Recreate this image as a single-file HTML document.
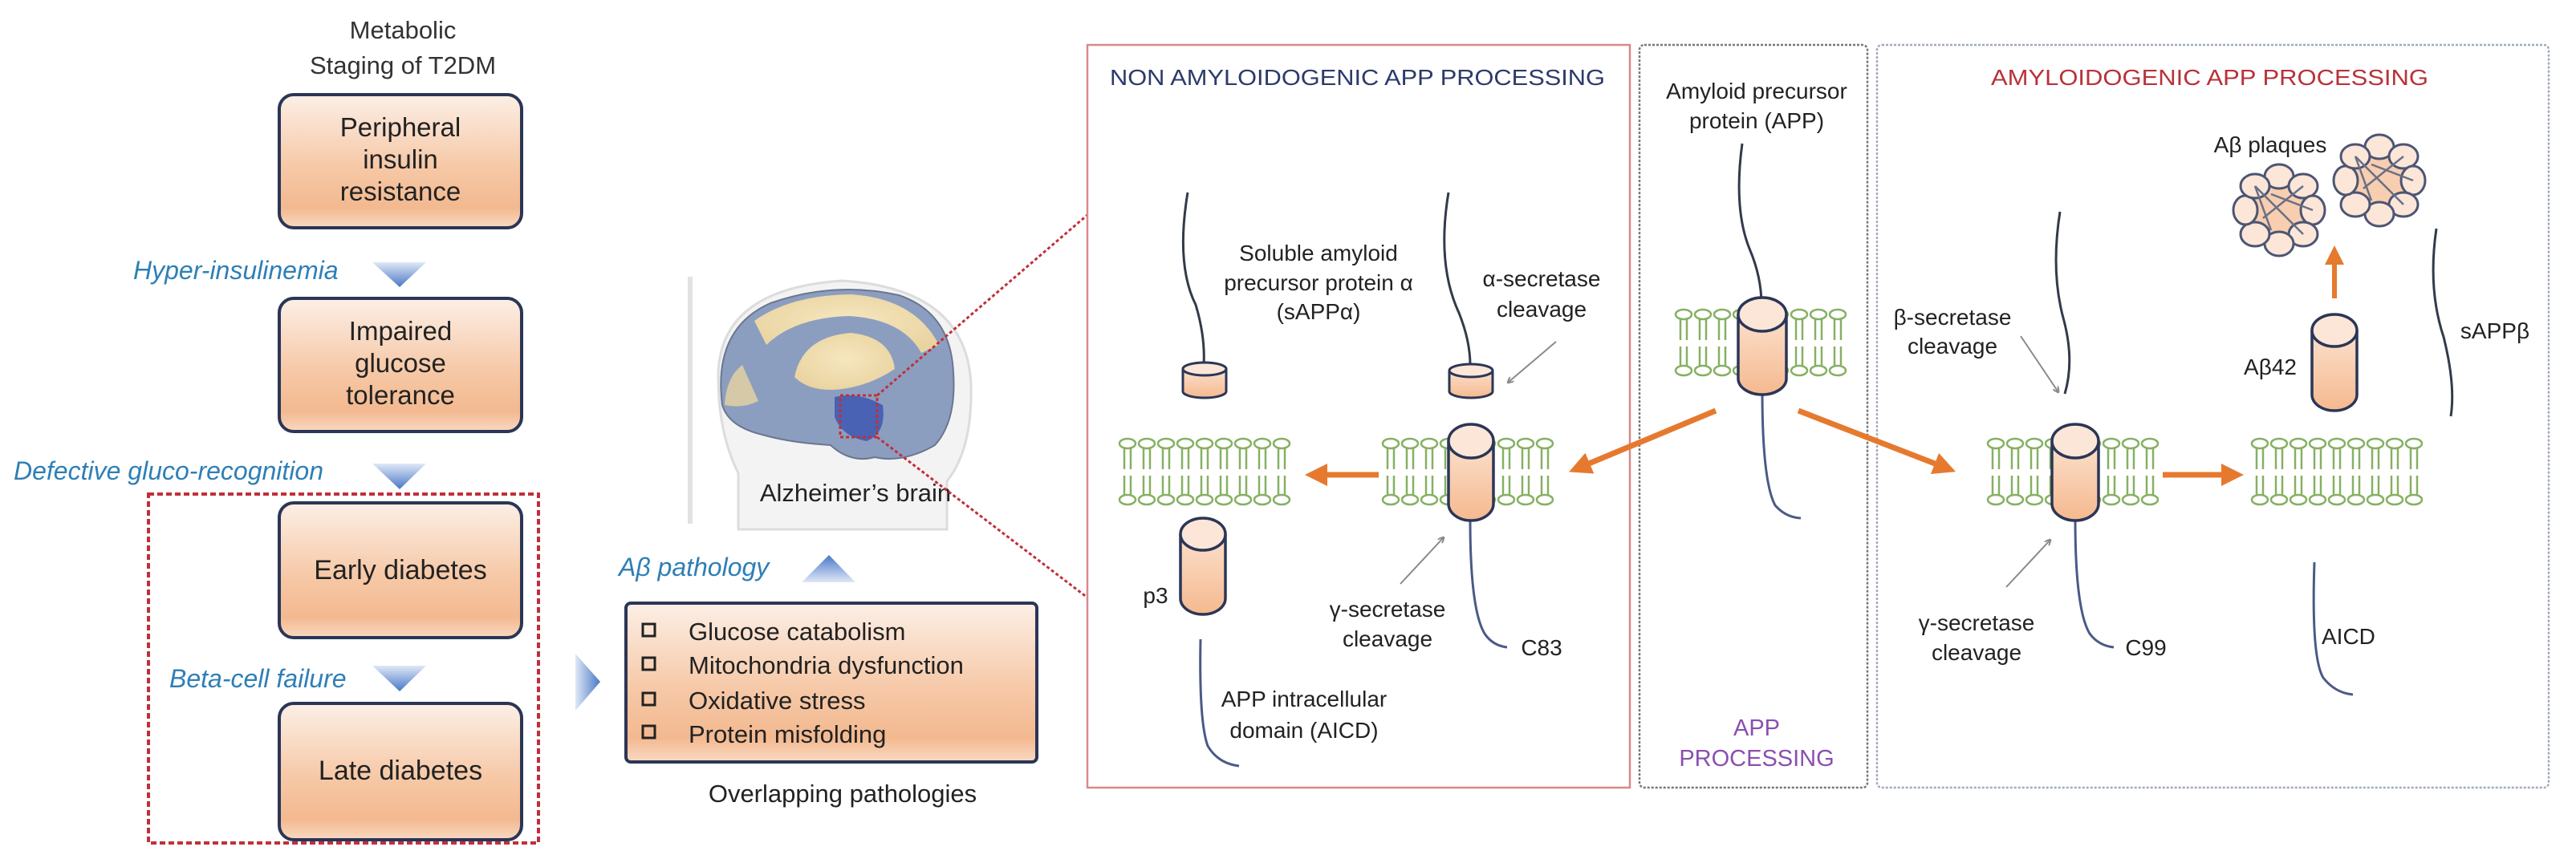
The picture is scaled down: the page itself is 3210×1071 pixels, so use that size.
<!DOCTYPE html>
<html><head><meta charset="utf-8"><style>
html,body{margin:0;padding:0;background:#fff;}
svg{display:block;}
text{font-family:"Liberation Sans",Arial,sans-serif;}
</style></head><body>
<svg width="3210" height="1071" viewBox="0 0 3210 1071" xmlns="http://www.w3.org/2000/svg">
<defs>
<linearGradient id="box" x1="0" y1="0" x2="0" y2="1">
<stop offset="0" stop-color="#fcefe6"/><stop offset="0.55" stop-color="#f6c8a6"/><stop offset="0.85" stop-color="#f3b990"/><stop offset="1" stop-color="#f9d9c2"/>
</linearGradient>
<linearGradient id="cyl" x1="0" y1="0" x2="0" y2="1">
<stop offset="0" stop-color="#fbe0cc"/><stop offset="1" stop-color="#f5b98f"/>
</linearGradient>
<linearGradient id="tri" x1="0" y1="0" x2="0" y2="1">
<stop offset="0" stop-color="#dfe8f6"/><stop offset="1" stop-color="#4a78c8"/>
</linearGradient>
<linearGradient id="triu" x1="0" y1="1" x2="0" y2="0">
<stop offset="0" stop-color="#dfe8f6"/><stop offset="1" stop-color="#4a78c8"/>
</linearGradient>
<linearGradient id="trir" x1="0" y1="0" x2="1" y2="0">
<stop offset="0" stop-color="#dfe8f6"/><stop offset="1" stop-color="#4a78c8"/>
</linearGradient>
<radialGradient id="brainY" cx="0.5" cy="0.45" r="0.6">
<stop offset="0" stop-color="#f6e7bf"/><stop offset="1" stop-color="#e9d3a0"/>
</radialGradient>
<g id="lip" fill="none" stroke="#86b063" stroke-width="2.5">
<ellipse cx="0" cy="0" rx="10" ry="6" fill="#fff"/>
<line x1="-4" y1="6" x2="-4" y2="32"/><line x1="4" y1="6" x2="4" y2="32"/>
<line x1="-4" y1="40" x2="-4" y2="64"/><line x1="4" y1="40" x2="4" y2="64"/>
<ellipse cx="0" cy="70" rx="10" ry="6" fill="#fff"/>
</g>
<g id="mem">
<use href="#lip" x="12"/><use href="#lip" x="36"/><use href="#lip" x="60"/><use href="#lip" x="84"/><use href="#lip" x="108"/><use href="#lip" x="132"/><use href="#lip" x="156"/><use href="#lip" x="180"/><use href="#lip" x="204"/>
</g>
<marker id="oa" markerWidth="4" markerHeight="4" refX="2" refY="2" orient="auto" markerUnits="strokeWidth"><path d="M0,0 L4,2 L0,4 z" fill="#e57a2f"/></marker>
<marker id="ga" markerWidth="8" markerHeight="8" refX="7" refY="4" orient="auto" markerUnits="userSpaceOnUse"><path d="M0,0 L8,4 L0,8" fill="none" stroke="#8a8a8a" stroke-width="2"/></marker>
<g id="plq">
<circle cx="0" cy="0" r="38" fill="#f6c6a2" opacity="0.85"/>
<g fill="#fbe6d8" stroke="#4c5573" stroke-width="3">
<ellipse cx="0" cy="-42" rx="18" ry="15"/><ellipse cx="30" cy="-30" rx="18" ry="15"/><ellipse cx="42" cy="0" rx="15" ry="18"/><ellipse cx="30" cy="30" rx="18" ry="15"/><ellipse cx="0" cy="42" rx="18" ry="15"/><ellipse cx="-30" cy="30" rx="18" ry="15"/><ellipse cx="-42" cy="0" rx="15" ry="18"/><ellipse cx="-30" cy="-30" rx="18" ry="15"/>
</g>
<path d="M-30,-30 L-10,25 M-30,-30 L30,30 M-10,-20 L42,0 M-20,10 L30,-30" stroke="#6a6f86" stroke-width="2.5" fill="none"/>
</g>
</defs>

<!-- LEFT PANEL -->
<text x="502" y="48" font-size="31" text-anchor="middle" fill="#333">Metabolic</text>
<text x="502" y="92" font-size="31" text-anchor="middle" fill="#333">Staging of T2DM</text>

<rect x="348" y="118" width="302" height="166" rx="18" fill="url(#box)" stroke="#2b3656" stroke-width="4"/>
<text font-size="33" fill="#222" text-anchor="middle"><tspan x="499" y="170">Peripheral</tspan><tspan x="499" y="210">insulin</tspan><tspan x="499" y="250">resistance</tspan></text>

<text x="166" y="348" font-size="32" font-style="italic" fill="#2e7fb6">Hyper-insulinemia</text>
<path d="M464,327 L531,327 L498,358 z" fill="url(#tri)"/>

<rect x="348" y="372" width="302" height="166" rx="18" fill="url(#box)" stroke="#2b3656" stroke-width="4"/>
<text font-size="33" fill="#222" text-anchor="middle"><tspan x="499" y="424">Impaired</tspan><tspan x="499" y="464">glucose</tspan><tspan x="499" y="504">tolerance</tspan></text>

<text x="17" y="598" font-size="32" font-style="italic" fill="#2e7fb6">Defective gluco-recognition</text>
<path d="M464,578 L531,578 L498,610 z" fill="url(#tri)"/>

<rect x="185" y="616" width="486" height="435" fill="none" stroke="#c0303a" stroke-width="4" stroke-dasharray="7,4"/>

<rect x="348" y="627" width="302" height="168" rx="18" fill="url(#box)" stroke="#2b3656" stroke-width="4"/>
<text x="499" y="722" font-size="34" fill="#222" text-anchor="middle">Early diabetes</text>

<text x="211" y="857" font-size="32" font-style="italic" fill="#2e7fb6">Beta-cell failure</text>
<path d="M464,830 L531,830 L498,862 z" fill="url(#tri)"/>

<rect x="348" y="877" width="302" height="170" rx="18" fill="url(#box)" stroke="#2b3656" stroke-width="4"/>
<text x="499" y="972" font-size="34" fill="#222" text-anchor="middle">Late diabetes</text>

<path d="M717,815 L748,850 L717,886 z" fill="url(#trir)"/>

<!-- brain -->
<rect x="857" y="345" width="6" height="308" fill="#e2e2e2"/>
<path d="M895,470 Q895,360 1050,350 Q1205,360 1210,480 Q1212,560 1180,600 L1180,660 L920,660 L920,590 Q895,540 895,470 z" fill="#f3f3f3" stroke="#dcdcdc" stroke-width="3"/>
<path d="M900,505 Q888,410 960,378 Q1040,350 1120,368 Q1185,390 1188,465 Q1192,525 1165,555 Q1125,578 1090,570 Q1060,578 1035,555 Q985,552 950,542 Q908,532 900,505 z" fill="#8c9ec0" stroke="#6b7690" stroke-width="2"/>
<path d="M940,400 Q985,368 1060,367 Q1140,372 1170,430 L1148,440 Q1125,398 1058,394 Q990,396 955,430 z" fill="url(#brainY)"/>
<path d="M903,505 Q905,470 925,455 L945,500 Q925,510 903,505 z" fill="#e9d3a0" opacity="0.8"/>
<path d="M990,470 Q1000,420 1060,415 Q1110,420 1115,460 Q1085,480 1050,485 Q1010,490 990,470 z" fill="url(#brainY)"/>
<path d="M1040,495 Q1070,488 1100,505 Q1105,540 1080,550 Q1050,545 1040,520 z" fill="#3e57b0" opacity="0.85"/>
<rect x="1047" y="493" width="46" height="52" fill="none" stroke="#c0303a" stroke-width="3" stroke-dasharray="4,3"/>
<text x="1066" y="625" font-size="31" text-anchor="middle" fill="#222">Alzheimer’s brain</text>
<line x1="1093" y1="493" x2="1355" y2="268" stroke="#c0303a" stroke-width="3" stroke-dasharray="4,3"/>
<line x1="1093" y1="545" x2="1355" y2="745" stroke="#c0303a" stroke-width="3" stroke-dasharray="4,3"/>

<text x="771" y="718" font-size="32" font-style="italic" fill="#2e7fb6">Aβ pathology</text>
<path d="M999,726 L1066,726 L1033,692 z" fill="url(#triu)"/>

<rect x="780" y="752" width="512" height="198" rx="6" fill="url(#box)" stroke="#2b3656" stroke-width="4"/>
<g fill="none" stroke="#222" stroke-width="3">
<rect x="801" y="778" width="15" height="15"/><rect x="801" y="820" width="15" height="15"/><rect x="801" y="864" width="15" height="15"/><rect x="801" y="905" width="15" height="15"/>
</g>
<text font-size="31" fill="#222"><tspan x="858" y="798">Glucose catabolism</tspan><tspan x="858" y="840">Mitochondria dysfunction</tspan><tspan x="858" y="884">Oxidative stress</tspan><tspan x="858" y="926">Protein misfolding</tspan></text>
<text x="1050" y="1000" font-size="31" text-anchor="middle" fill="#222">Overlapping pathologies</text>

<!-- RIGHT PANELS -->
<rect x="1355" y="56" width="676" height="926" fill="none" stroke="#d98888" stroke-width="2.5"/>
<rect x="2043" y="56" width="284" height="926" rx="6" fill="none" stroke="#777" stroke-width="2.5" stroke-dasharray="3,2"/>
<rect x="2339" y="56" width="837" height="926" rx="6" fill="none" stroke="#a0aabb" stroke-width="2.5" stroke-dasharray="3,2"/>

<text x="1383" y="106" font-size="28" fill="#2c3a6b" textLength="617" lengthAdjust="spacingAndGlyphs">NON AMYLOIDOGENIC APP PROCESSING</text>
<text x="2481" y="106" font-size="28" fill="#b8323a" textLength="545" lengthAdjust="spacingAndGlyphs">AMYLOIDOGENIC APP PROCESSING</text>
<text font-size="28" fill="#222" text-anchor="middle"><tspan x="2189" y="123">Amyloid precursor</tspan><tspan x="2189" y="160">protein (APP)</tspan></text>
<text font-size="29" fill="#8a4fb0" text-anchor="middle"><tspan x="2189" y="917">APP</tspan><tspan x="2189" y="955">PROCESSING</tspan></text>

<!-- non amyloidogenic -->
<g fill="none" stroke="#333a4a" stroke-width="3">
<path d="M1480,240 Q1465,330 1490,380 Q1502,420 1500,455"/>
<path d="M1805,240 Q1790,330 1818,390 Q1832,425 1832,455"/>
</g>
<path d="M1474,460 L1474,488 A27,8 0 0 0 1528,488 L1528,460" fill="url(#cyl)" stroke="#2b3656" stroke-width="3"/>
<ellipse cx="1501" cy="460" rx="27" ry="8" fill="#fbe6d8" stroke="#2b3656" stroke-width="3"/>
<path d="M1806,462 L1806,488 A27,8 0 0 0 1860,488 L1860,462" fill="url(#cyl)" stroke="#2b3656" stroke-width="3"/>
<ellipse cx="1833" cy="462" rx="27" ry="8" fill="#fbe6d8" stroke="#2b3656" stroke-width="3"/>
<text font-size="28" fill="#222" text-anchor="middle"><tspan x="1643" y="325">Soluble amyloid</tspan><tspan x="1643" y="362">precursor protein α</tspan><tspan x="1643" y="398">(sAPPα)</tspan></text>
<text font-size="28" fill="#222" text-anchor="middle"><tspan x="1921" y="357">α-secretase</tspan><tspan x="1921" y="395">cleavage</tspan></text>
<line x1="1939" y1="426" x2="1879" y2="477" stroke="#8a8a8a" stroke-width="2" marker-end="url(#ga)"/>

<use href="#mem" x="1393" y="553"/>
<line x1="1718" y1="592" x2="1640" y2="592" stroke="#e57a2f" stroke-width="7" marker-end="url(#oa)"/>
<use href="#mem" x="1721" y="553"/>
<path d="M1832,648 Q1832,760 1850,790 Q1860,805 1878,807" fill="none" stroke="#4a5a86" stroke-width="3"/>
<path d="M1805,550 L1805,628 A28,21 0 0 0 1861,628 L1861,550" fill="url(#cyl)" stroke="#2b3656" stroke-width="3.5"/>
<ellipse cx="1833" cy="550" rx="28" ry="21" fill="#fbe6d8" stroke="#2b3656" stroke-width="3.5"/>
<text x="1921" y="817" font-size="28" fill="#222" text-anchor="middle">C83</text>
<line x1="1745" y1="728" x2="1799" y2="670" stroke="#8a8a8a" stroke-width="2" marker-end="url(#ga)"/>
<text font-size="28" fill="#222" text-anchor="middle"><tspan x="1729" y="769">γ-secretase</tspan><tspan x="1729" y="806">cleavage</tspan></text>

<path d="M1471,666 L1471,746 A28,20 0 0 0 1527,746 L1527,666" fill="url(#cyl)" stroke="#2b3656" stroke-width="3.5"/>
<ellipse cx="1499" cy="666" rx="28" ry="20" fill="#fbe6d8" stroke="#2b3656" stroke-width="3.5"/>
<text x="1440" y="752" font-size="28" fill="#222" text-anchor="middle">p3</text>
<path d="M1496,797 Q1494,900 1505,930 Q1518,952 1544,955" fill="none" stroke="#4a5a86" stroke-width="3"/>
<text font-size="28" fill="#222" text-anchor="middle"><tspan x="1625" y="881">APP intracellular</tspan><tspan x="1625" y="920">domain (AICD)</tspan></text>

<!-- center -->
<path d="M2171,179 Q2160,260 2180,310 Q2195,345 2195,380" fill="none" stroke="#333a4a" stroke-width="3"/>
<use href="#mem" x="2086" y="392"/>
<path d="M2196,488 Q2196,600 2212,630 Q2225,645 2244,646" fill="none" stroke="#4a5a86" stroke-width="3"/>
<path d="M2166,392 L2166,472 A30,20 0 0 0 2226,472 L2226,392" fill="url(#cyl)" stroke="#2b3656" stroke-width="3.5"/>
<ellipse cx="2196" cy="392" rx="30" ry="21" fill="#fbe6d8" stroke="#2b3656" stroke-width="3.5"/>
<line x1="2138" y1="512" x2="1968" y2="583" stroke="#e57a2f" stroke-width="7" marker-end="url(#oa)"/>
<line x1="2241" y1="512" x2="2424" y2="583" stroke="#e57a2f" stroke-width="7" marker-end="url(#oa)"/>

<!-- amyloidogenic -->
<path d="M2567,264 Q2555,340 2572,400 Q2585,450 2573,491" fill="none" stroke="#333a4a" stroke-width="3"/>
<text font-size="28" fill="#222" text-anchor="middle"><tspan x="2433" y="405">β-secretase</tspan><tspan x="2433" y="441">cleavage</tspan></text>
<line x1="2518" y1="419" x2="2565" y2="489" stroke="#8a8a8a" stroke-width="2" marker-end="url(#ga)"/>
<use href="#mem" x="2475" y="553"/>
<path d="M2586,648 Q2586,760 2604,790 Q2615,805 2634,807" fill="none" stroke="#4a5a86" stroke-width="3"/>
<path d="M2557,550 L2557,628 A29,21 0 0 0 2615,628 L2615,550" fill="url(#cyl)" stroke="#2b3656" stroke-width="3.5"/>
<ellipse cx="2586" cy="550" rx="29" ry="21" fill="#fbe6d8" stroke="#2b3656" stroke-width="3.5"/>
<text x="2674" y="817" font-size="28" fill="#222" text-anchor="middle">C99</text>
<line x1="2500" y1="732" x2="2555" y2="673" stroke="#8a8a8a" stroke-width="2" marker-end="url(#ga)"/>
<text font-size="28" fill="#222" text-anchor="middle"><tspan x="2463" y="786">γ-secretase</tspan><tspan x="2463" y="823">cleavage</tspan></text>
<line x1="2695" y1="592" x2="2782" y2="592" stroke="#e57a2f" stroke-width="7" marker-end="url(#oa)"/>
<use href="#mem" x="2804" y="553"/>
<path d="M2884,701 Q2880,820 2895,845 Q2910,864 2932,866" fill="none" stroke="#4a5a86" stroke-width="3"/>
<text x="2893" y="803" font-size="28" fill="#222">AICD</text>

<path d="M2881,412 L2881,492 A28,20 0 0 0 2937,492 L2937,412" fill="url(#cyl)" stroke="#2b3656" stroke-width="3.5"/>
<ellipse cx="2909" cy="412" rx="28" ry="20" fill="#fbe6d8" stroke="#2b3656" stroke-width="3.5"/>
<text x="2829" y="467" font-size="28" fill="#222" text-anchor="middle">Aβ42</text>
<line x1="2909" y1="372" x2="2909" y2="318" stroke="#e57a2f" stroke-width="6" marker-end="url(#oa)"/>
<use href="#plq" x="2840" y="262"/>
<use href="#plq" x="2965" y="225"/>
<text x="2829" y="190" font-size="28" fill="#222" text-anchor="middle">Aβ plaques</text>
<path d="M3036,285 Q3025,360 3045,420 Q3060,480 3054,519" fill="none" stroke="#333a4a" stroke-width="3"/>
<text x="3109" y="422" font-size="28" fill="#222" text-anchor="middle">sAPPβ</text>
</svg>
</body></html>
